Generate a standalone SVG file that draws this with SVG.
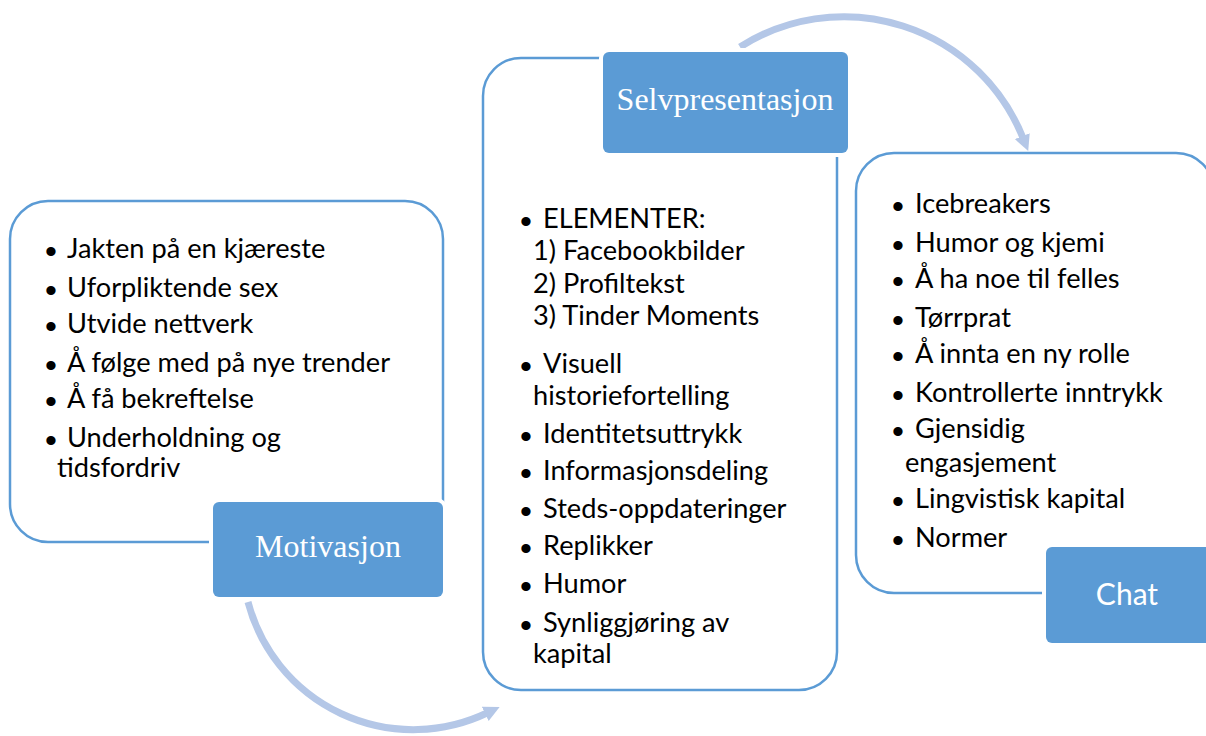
<svg xmlns="http://www.w3.org/2000/svg" width="1206" height="736" viewBox="0 0 1206 736">
<defs>
<style>
.box{fill:#fff;stroke:#5B9BD5;stroke-width:2.5}
.lbl{fill:#5B9BD5;stroke:#fff;stroke-width:8;paint-order:stroke}
.t{font-family:Lato,"Liberation Sans",sans-serif;font-size:27.2px;fill:#000}
.b{font-family:"Liberation Sans",sans-serif;font-size:34px}
.ls{font-family:"Liberation Serif",serif;font-size:32px;fill:#fff;text-anchor:middle}
.lc{font-family:Lato,"Liberation Sans",sans-serif;font-size:30px;fill:#fff;text-anchor:middle}
.arc{fill:none;stroke:#B4C7E7;stroke-width:7}
</style>
<marker id="ah" markerUnits="userSpaceOnUse" markerWidth="20" markerHeight="20" refX="2" refY="10" orient="auto">
<path d="M0,2 L16,10 L0,18 Z" fill="#B4C7E7"/>
</marker>
</defs>
<g id="connectors">
<path class="arc" d="M248,602 A171,171 0 0,0 487,713" marker-end="url(#ah)"/>
<path class="arc" d="M740,47 A193,193 0 0,1 1023,138" marker-end="url(#ah)"/>
</g>
<g id="motivasjon">
<rect class="box" x="10" y="201" width="433" height="341" rx="38"/>
<rect class="lbl" x="213" y="502" width="230" height="95" rx="6"/>
<text class="ls" x="328" y="557">Motivasjon</text>
<text class="t" y="258"><tspan class="b" x="45" dy="5">•</tspan><tspan x="67" dy="-5">Jakten på en kjæreste</tspan></text>
<text class="t" y="297"><tspan class="b" x="45" dy="5">•</tspan><tspan x="67" dy="-5">Uforpliktende sex</tspan></text>
<text class="t" y="333"><tspan class="b" x="45" dy="5">•</tspan><tspan x="67" dy="-5">Utvide nettverk</tspan></text>
<text class="t" y="372"><tspan class="b" x="45" dy="5">•</tspan><tspan x="67" dy="-5">Å følge med på nye trender</tspan></text>
<text class="t" y="408"><tspan class="b" x="45" dy="5">•</tspan><tspan x="67" dy="-5">Å få bekreftelse</tspan></text>
<text class="t" y="447"><tspan class="b" x="45" dy="5">•</tspan><tspan x="67" dy="-5">Underholdning og</tspan></text>
<text class="t" x="57" y="477">tidsfordriv</text>
</g>
<g id="selvpresentasjon">
<rect class="box" x="483" y="58" width="354" height="632" rx="38"/>
<rect class="lbl" x="603" y="52" width="245" height="101" rx="6"/>
<text class="ls" x="725" y="110">Selvpresentasjon</text>
<text class="t" y="228"><tspan class="b" x="520" dy="5">•</tspan><tspan x="543" dy="-5">ELEMENTER:</tspan></text>
<text class="t" x="533" y="260">1) Facebookbilder</text>
<text class="t" x="533" y="293">2) Profiltekst</text>
<text class="t" x="533" y="325">3) Tinder Moments</text>
<text class="t" y="373"><tspan class="b" x="520" dy="5">•</tspan><tspan x="543" dy="-5">Visuell</tspan></text>
<text class="t" x="533" y="405">historiefortelling</text>
<text class="t" y="443"><tspan class="b" x="520" dy="5">•</tspan><tspan x="543" dy="-5">Identitetsuttrykk</tspan></text>
<text class="t" y="480"><tspan class="b" x="520" dy="5">•</tspan><tspan x="543" dy="-5">Informasjonsdeling</tspan></text>
<text class="t" y="518"><tspan class="b" x="520" dy="5">•</tspan><tspan x="543" dy="-5">Steds-oppdateringer</tspan></text>
<text class="t" y="555"><tspan class="b" x="520" dy="5">•</tspan><tspan x="543" dy="-5">Replikker</tspan></text>
<text class="t" y="593"><tspan class="b" x="520" dy="5">•</tspan><tspan x="543" dy="-5">Humor</tspan></text>
<text class="t" y="632"><tspan class="b" x="520" dy="5">•</tspan><tspan x="543" dy="-5">Synliggjøring av</tspan></text>
<text class="t" x="533" y="663">kapital</text>
</g>
<g id="chat">
<rect class="box" x="856" y="153" width="358" height="440" rx="38"/>
<rect class="lbl" x="1046" y="547" width="166" height="96" rx="6"/>
<text class="lc" x="1127" y="605">Chat</text>
<text class="t" y="213"><tspan class="b" x="892" dy="5">•</tspan><tspan x="915" dy="-5">Icebreakers</tspan></text>
<text class="t" y="252"><tspan class="b" x="892" dy="5">•</tspan><tspan x="915" dy="-5">Humor og kjemi</tspan></text>
<text class="t" y="288"><tspan class="b" x="892" dy="5">•</tspan><tspan x="915" dy="-5">Å ha noe til felles</tspan></text>
<text class="t" y="327"><tspan class="b" x="892" dy="5">•</tspan><tspan x="915" dy="-5">Tørrprat</tspan></text>
<text class="t" y="363"><tspan class="b" x="892" dy="5">•</tspan><tspan x="915" dy="-5">Å innta en ny rolle</tspan></text>
<text class="t" y="402"><tspan class="b" x="892" dy="5">•</tspan><tspan x="915" dy="-5">Kontrollerte inntrykk</tspan></text>
<text class="t" y="438"><tspan class="b" x="892" dy="5">•</tspan><tspan x="915" dy="-5">Gjensidig</tspan></text>
<text class="t" x="905" y="472">engasjement</text>
<text class="t" y="508"><tspan class="b" x="892" dy="5">•</tspan><tspan x="915" dy="-5">Lingvistisk kapital</tspan></text>
<text class="t" y="547"><tspan class="b" x="892" dy="5">•</tspan><tspan x="915" dy="-5">Normer</tspan></text>
</g>
</svg>
